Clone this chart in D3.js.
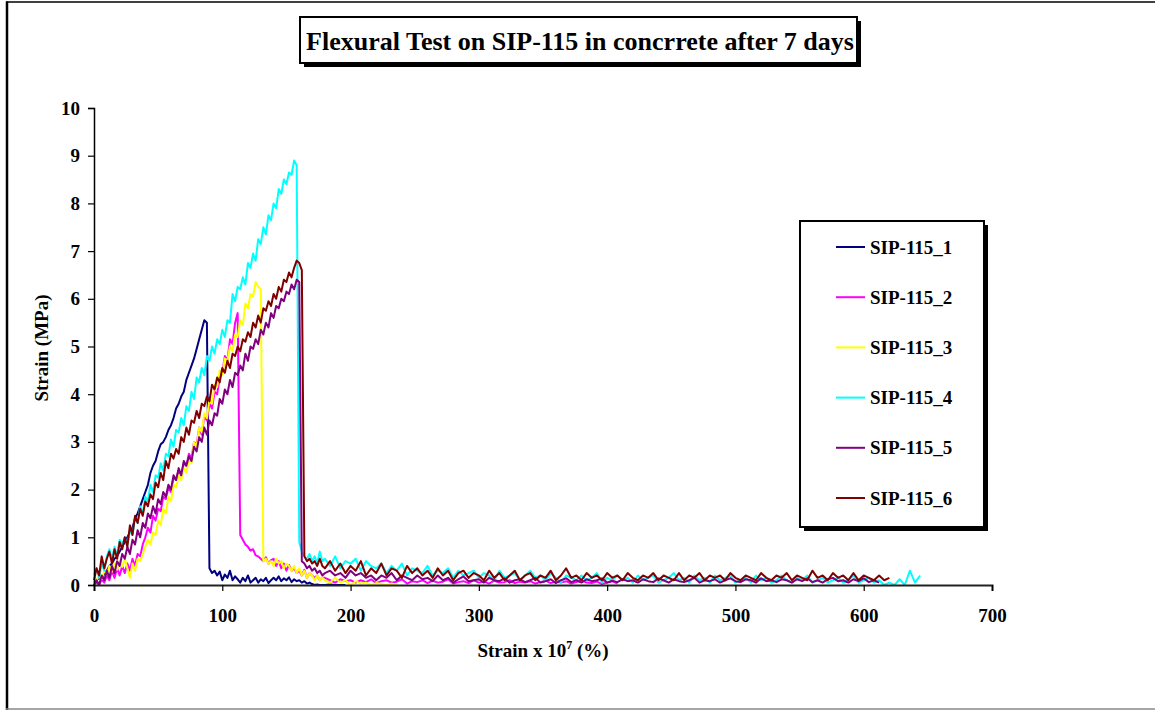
<!DOCTYPE html>
<html><head><meta charset="utf-8">
<script src="https://cdn.jsdelivr.net/npm/d3@7"></script>
<style>
body{margin:0;background:#fff}
svg{display:block}
text{font-family:"Liberation Serif","Times New Roman",serif;font-weight:bold;fill:#000}
</style>
</head><body><svg id="chart" width="1155" height="710"></svg>
<script>
// ---------------- DATA ----------------
const chartTitle = "Flexural Test on SIP-115 in concrrete after 7 days";
const yTitle = "Strain (MPa)";
const xTicks = [0, 100, 200, 300, 400, 500, 600, 700];
const yTicks = [0, 1, 2, 3, 4, 5, 6, 7, 8, 9, 10];
const seriesNames = ["SIP-115_1", "SIP-115_2", "SIP-115_3", "SIP-115_4", "SIP-115_5", "SIP-115_6"];
const seriesColors = ["#000080", "#FF00FF", "#FFFF00", "#00FFFF", "#800080", "#800000"];

// loading part sampled every 2 units of strain (x = 0, 2, 4 ...)
const riseStep = 2;
// residual part sampled every 4 units of strain, starting at x = 180
const tailStart = 180, tailStep = 4;

const s1Rise = [
  0.05, 0.1, 0.15, 0.1, 0.25, 0.3, 0.4, 0.45, 0.55, 0.6,
  0.7, 0.8, 0.9, 1.0, 1.1, 1.2, 1.4, 1.5, 1.65, 1.8,
  1.95, 2.1, 2.35, 2.5, 2.6, 2.8, 2.95, 3.0, 3.1, 3.25,
  3.35, 3.5, 3.7, 3.8, 3.95, 4.05, 4.3, 4.45, 4.6, 4.75,
  4.95, 5.15, 5.35, 5.55, 5.5, 0.35, 0.25, 0.3, 0.2, 0.28,
  0.1, 0.22, 0.15, 0.3, 0.1, 0.18, 0.12, 0.05, 0.15, 0.08,
  0.2, 0.05, 0.1, 0.15, 0.05, 0.12, 0.08, 0.15, 0.04, 0.1,
  0.15, 0.1, 0.18, 0.08, 0.14, 0.1, 0.16, 0.06, 0.12, 0.08,
  0.1, 0.05, 0.08, 0.03, 0.05, 0.02, 0.0, 0.01, 0.0, 0.0
];
const s1Tail = [0.0, 0.01, 0.0, 0.0, 0.0];

const s2Rise = [
  0.0, 0.05, 0.0, 0.12, 0.05, 0.2, 0.1, 0.3, 0.15, 0.35,
  0.2, 0.4, 0.25, 0.45, 0.3, 0.55, 0.4, 0.65, 0.6, 0.85,
  1.0, 1.2, 1.1, 1.45, 1.35, 1.6, 1.55, 1.85, 1.8, 2.05,
  1.95, 2.25, 2.2, 2.4, 2.3, 2.55, 2.5, 2.75, 2.65, 3.0,
  2.95, 3.3, 3.15, 3.55, 3.45, 3.8, 3.7, 4.05, 4.0, 4.35,
  4.45, 4.8, 4.7, 5.15, 5.05, 5.5, 5.7, 1.05, 0.95, 0.85,
  0.8, 0.72, 0.75, 0.62, 0.6, 0.55, 0.5, 0.58, 0.45, 0.52,
  0.55, 0.4, 0.5, 0.35, 0.45, 0.3, 0.42, 0.3, 0.35, 0.25,
  0.3, 0.2, 0.32, 0.15, 0.25, 0.2, 0.15, 0.2, 0.1, 0.15
];
const s2Tail = [
  0.15, 0.1, 0.05, 0.12, 0.08, 0.1, 0.05, 0.1, 0.06, 0.12,
  0.04, 0.08, 0.1, 0.05, 0.07, 0.12, 0.03, 0.08, 0.06, 0.1,
  0.04, 0.09, 0.05, 0.07, 0.12, 0.03, 0.06, 0.08, 0.04, 0.1,
  0.05, 0.07, 0.03, 0.09, 0.05, 0.06, 0.1, 0.04, 0.07, 0.05,
  0.08, 0.03, 0.06, 0.09, 0.04, 0.07, 0.05, 0.08, 0.03, 0.06,
  0.1, 0.05, 0.04, 0.07, 0.02, 0.05, 0.08, 0.03
];

const s3Rise = [
  0.0, 0.1, 0.2, 0.12, 0.3, 0.22, 0.4, 0.28, 0.45, 0.32,
  0.5, 0.38, 0.55, 0.35, 0.15, 0.45, 0.3, 0.55, 0.5, 0.65,
  0.8, 0.95, 0.85, 1.1, 1.05, 1.35, 1.25, 1.6, 1.5, 1.85,
  1.75, 2.1, 2.05, 2.3, 2.2, 2.45, 2.35, 2.65, 2.55, 3.0,
  2.9, 3.3, 3.2, 3.6, 3.5, 3.9, 3.8, 4.2, 4.15, 4.5,
  4.4, 4.75, 4.7, 5.0, 4.9, 5.25, 5.2, 5.55, 5.45, 5.9,
  5.8, 6.1, 6.05, 6.35, 6.25, 6.2, 0.5, 0.55, 0.45, 0.5,
  0.4, 0.55, 0.45, 0.5, 0.35, 0.45, 0.4, 0.3, 0.4, 0.25,
  0.35, 0.2, 0.3, 0.15, 0.25, 0.2, 0.1, 0.2, 0.1, 0.15
];
const s3Tail = [0.1, 0.05, 0.15, 0.05, 0.1, 0.0, 0.08, 0.03, 0.05, 0.0, 0.04, 0.02, 0.0, 0.03, 0.0];

const s4Rise = [
  0.2, 0.35, 0.15, 0.45, 0.3, 0.6, 0.75, 0.55, 0.8, 0.6,
  0.95, 0.85, 1.0, 0.85, 1.15, 1.05, 1.4, 1.3, 1.65, 1.5,
  1.85, 1.75, 2.1, 1.95, 2.3, 2.25, 2.55, 2.4, 2.75, 2.7,
  3.05, 2.9, 3.25, 3.2, 3.5, 3.35, 3.75, 3.65, 4.05, 3.9,
  4.35, 4.25, 4.55, 4.4, 4.8, 4.7, 5.0, 4.85, 5.15, 5.05,
  5.35, 5.2, 5.55, 5.5, 6.1, 5.95, 6.25, 6.2, 6.45, 6.3,
  6.75, 6.65, 6.95, 6.8, 7.25, 7.15, 7.5, 7.35, 7.75, 7.65,
  8.0, 7.9, 8.3, 8.2, 8.5, 8.4, 8.65, 8.6, 8.9, 8.8,
  0.9, 0.7, 0.6, 0.55, 0.65, 0.5, 0.6, 0.45, 0.7, 0.5
];
const s4Tail = [
  0.55, 0.4, 0.6, 0.35, 0.5, 0.45, 0.55, 0.3, 0.5, 0.4,
  0.35, 0.45, 0.25, 0.4, 0.3, 0.45, 0.2, 0.35, 0.3, 0.25,
  0.4, 0.2, 0.3, 0.25, 0.35, 0.15, 0.3, 0.2, 0.25, 0.3,
  0.15, 0.25, 0.2, 0.1, 0.3, 0.15, 0.2, 0.25, 0.1, 0.2,
  0.3, 0.15, 0.2, 0.1, 0.25, 0.15, 0.05, 0.2, 0.15, 0.1,
  0.2, 0.1, 0.15, 0.25, 0.05, 0.15, 0.1, 0.2, 0.1, 0.15,
  0.05, 0.2, 0.1, 0.15, 0.2, 0.05, 0.1, 0.15, 0.25, 0.1,
  0.15, 0.05, 0.2, 0.1, 0.15, 0.05, 0.2, 0.1, 0.15, 0.2,
  0.05, 0.1, 0.15, 0.05, 0.2, 0.1, 0.15, 0.05, 0.1, 0.2,
  0.1, 0.05, 0.15, 0.1, 0.2, 0.05, 0.1, 0.15, 0.05, 0.1,
  0.15, 0.05, 0.1, 0.2, 0.05, 0.1, 0.15, 0.05, 0.1, 0.0,
  0.05, 0.0, 0.12, 0.0, 0.3, 0.05, 0.2
];

const s5Rise = [
  0.0, 0.1, 0.0, 0.2, 0.1, 0.3, 0.15, 0.4, 0.25, 0.5,
  0.4, 0.65, 0.55, 0.8, 0.65, 0.95, 0.85, 1.15, 1.0, 1.3,
  1.2, 1.5, 1.4, 1.65, 1.5, 1.8, 1.7, 1.95, 1.85, 2.1,
  2.0, 2.3, 2.2, 2.45, 2.3, 2.6, 2.5, 2.7, 2.6, 2.9,
  2.8, 3.1, 3.0, 3.3, 3.15, 3.45, 3.35, 3.6, 3.55, 3.9,
  3.8, 4.1, 4.0, 4.3, 4.15, 4.45, 4.4, 4.6, 4.5, 4.85,
  4.7, 5.0, 4.95, 5.15, 5.05, 5.35, 5.25, 5.5, 5.4, 5.7,
  5.6, 5.85, 5.8, 6.0, 5.95, 6.15, 6.1, 6.3, 6.2, 6.4,
  6.35, 0.5, 0.45, 0.35, 0.4, 0.3, 0.35, 0.25, 0.3, 0.2
];
const s5Tail = [
  0.25, 0.3, 0.2, 0.25, 0.15, 0.3, 0.2, 0.25, 0.15, 0.2,
  0.1, 0.2, 0.15, 0.25, 0.1, 0.2, 0.15, 0.1, 0.2, 0.12,
  0.15, 0.08, 0.2, 0.1, 0.15, 0.05, 0.12, 0.18, 0.08, 0.1,
  0.12, 0.05, 0.15, 0.1, 0.08, 0.14, 0.05, 0.1, 0.12, 0.06,
  0.1, 0.15, 0.05, 0.08, 0.12, 0.04, 0.1, 0.14, 0.06, 0.1,
  0.05, 0.12, 0.08, 0.1, 0.14, 0.05, 0.09, 0.06, 0.12, 0.08,
  0.1, 0.05, 0.12, 0.08, 0.06, 0.14, 0.1, 0.05, 0.12, 0.08,
  0.06, 0.1, 0.15, 0.05, 0.1, 0.08, 0.12, 0.05, 0.1, 0.14,
  0.08, 0.06, 0.12, 0.1, 0.05, 0.14, 0.08, 0.1, 0.06, 0.12,
  0.1, 0.05, 0.12, 0.08, 0.14, 0.06, 0.1, 0.05, 0.12, 0.15,
  0.08, 0.1, 0.05, 0.12, 0.08, 0.14, 0.06, 0.1, 0.05
];

const s6Rise = [
  0.1, 0.35, 0.2, 0.6, 0.35, 0.55, 0.7, 0.45, 0.75, 0.55,
  0.9, 0.75, 1.0, 0.8, 1.25, 1.05, 1.45, 1.3, 1.6, 1.45,
  1.75, 1.65, 1.9, 1.8, 2.15, 2.05, 2.35, 2.2, 2.6, 2.45,
  2.75, 2.65, 2.85, 2.75, 3.1, 3.0, 3.3, 3.15, 3.45, 3.4,
  3.65, 3.5, 3.8, 3.75, 3.95, 3.85, 4.2, 4.1, 4.35, 4.25,
  4.55, 4.45, 4.7, 4.55, 4.85, 4.8, 5.0, 4.9, 5.15, 5.1,
  5.3, 5.2, 5.5, 5.4, 5.65, 5.5, 5.8, 5.75, 5.95, 5.85,
  6.1, 6.0, 6.25, 6.15, 6.4, 6.35, 6.55, 6.45, 6.65, 6.8,
  6.75, 6.6, 0.6, 0.5, 0.55, 0.45, 0.5, 0.4, 0.55, 0.4
];
const s6Tail = [
  0.35, 0.5, 0.3, 0.45, 0.25, 0.4, 0.3, 0.5, 0.2, 0.35,
  0.25, 0.45, 0.2, 0.35, 0.3, 0.15, 0.4, 0.25, 0.35, 0.2,
  0.3, 0.15, 0.35, 0.2, 0.3, 0.1, 0.25, 0.3, 0.15, 0.25,
  0.2, 0.1, 0.3, 0.15, 0.25, 0.1, 0.2, 0.3, 0.1, 0.2,
  0.25, 0.1, 0.2, 0.15, 0.3, 0.1, 0.2, 0.35, 0.15, 0.2,
  0.1, 0.25, 0.15, 0.2, 0.1, 0.25, 0.15, 0.2, 0.1, 0.25,
  0.15, 0.1, 0.2, 0.15, 0.25, 0.1, 0.2, 0.15, 0.1, 0.25,
  0.1, 0.2, 0.15, 0.25, 0.1, 0.2, 0.15, 0.2, 0.1, 0.25,
  0.15, 0.1, 0.2, 0.15, 0.1, 0.25, 0.15, 0.1, 0.2, 0.15,
  0.25, 0.1, 0.2, 0.15, 0.1, 0.3, 0.15, 0.2, 0.1, 0.25,
  0.15, 0.2, 0.1, 0.25, 0.1, 0.2, 0.15, 0.1, 0.2, 0.1, 0.15
];

const riseData = [s1Rise, s2Rise, s3Rise, s4Rise, s5Rise, s6Rise];
const tailData = [s1Tail, s2Tail, s3Tail, s4Tail, s5Tail, s6Tail];

// ---------------- CHART ----------------
const svg = d3.select("#chart");
const x = d3.scaleLinear().domain([0, 700]).range([94, 992]);
const y = d3.scaleLinear().domain([0, 10]).range([585, 108]);

// outer chart-area border
svg.append("line").attr("x1", 7).attr("y1", 1.5).attr("x2", 7).attr("y2", 710)
  .attr("stroke", "#000").attr("stroke-width", 2.5);
svg.append("line").attr("x1", 6).attr("y1", 2).attr("x2", 1155).attr("y2", 2)
  .attr("stroke", "#000").attr("stroke-width", 1.5);
svg.append("line").attr("x1", 6).attr("y1", 709).attr("x2", 1155).attr("y2", 709)
  .attr("stroke", "#888").attr("stroke-width", 1.5);

// series
const series = seriesNames.map((name, i) => ({
  name,
  color: seriesColors[i],
  points: riseData[i].map((v, k) => [k * riseStep, v])
    .concat(tailData[i].map((v, k) => [tailStart + k * tailStep, v]))
}));

const line = d3.line().x(d => x(d[0])).y(d => y(d[1]));
svg.append("g").selectAll("path").data(series).join("path")
  .attr("d", d => line(d.points))
  .attr("fill", "none")
  .attr("stroke", d => d.color)
  .attr("stroke-width", 2)
  .attr("stroke-linejoin", "round");

// axes
const gx = svg.append("g").attr("transform", "translate(0,585)")
  .call(d3.axisBottom(x).tickValues(xTicks).tickSize(6).tickPadding(18).tickFormat(d3.format("d")));
gx.select(".domain").attr("stroke", "#222").attr("stroke-width", 2);
gx.selectAll(".tick line").attr("stroke", "#000").attr("stroke-width", 1.2);
gx.selectAll(".tick text").attr("font-size", 19).attr("font-family", "Liberation Serif").attr("font-weight", "bold");

const gy = svg.append("g").attr("transform", "translate(94,0)")
  .call(d3.axisLeft(y).tickValues(yTicks).tickSize(6).tickPadding(8).tickFormat(d3.format("d")));
gy.select(".domain").attr("stroke", "#000").attr("stroke-width", 1.5);
gy.selectAll(".tick line").attr("stroke", "#000").attr("stroke-width", 1.2);
gy.selectAll(".tick text").attr("font-size", 19).attr("font-family", "Liberation Serif").attr("font-weight", "bold");

// axis titles
const xt = svg.append("text").attr("x", 543).attr("y", 657).attr("text-anchor", "middle").attr("font-size", 19);
xt.append("tspan").text("Strain x 10");
xt.append("tspan").text("7").attr("font-size", 12).attr("dy", -8);
xt.append("tspan").text(" (%)").attr("dy", 8);

svg.append("text").attr("transform", "translate(48,348) rotate(-90)")
  .attr("text-anchor", "middle").attr("font-size", 19).text(yTitle);

// title box
svg.append("rect").attr("x", 304).attr("y", 21).attr("width", 557).attr("height", 46).attr("fill", "#000");
svg.append("rect").attr("x", 300).attr("y", 17).attr("width", 557).attr("height", 46)
  .attr("fill", "#fff").attr("stroke", "#000").attr("stroke-width", 2);
svg.append("text").attr("x", 580).attr("y", 50).attr("text-anchor", "middle")
  .attr("font-size", 26).text(chartTitle);

// legend
svg.append("rect").attr("x", 804).attr("y", 225).attr("width", 184).attr("height", 306).attr("fill", "#000");
svg.append("rect").attr("x", 800).attr("y", 221).attr("width", 184).attr("height", 306)
  .attr("fill", "#fff").attr("stroke", "#000").attr("stroke-width", 2);
const lg = svg.append("g").selectAll("g").data(series).join("g")
  .attr("transform", (d, i) => `translate(836,${247 + i * 50.2})`);
lg.append("line").attr("x1", 0).attr("x2", 29).attr("y1", 0).attr("y2", 0)
  .attr("stroke", d => d.color).attr("stroke-width", 2);
lg.append("text").attr("x", 34).attr("y", 6.5).attr("font-size", 19).text(d => d.name);
</script>
</body></html>
